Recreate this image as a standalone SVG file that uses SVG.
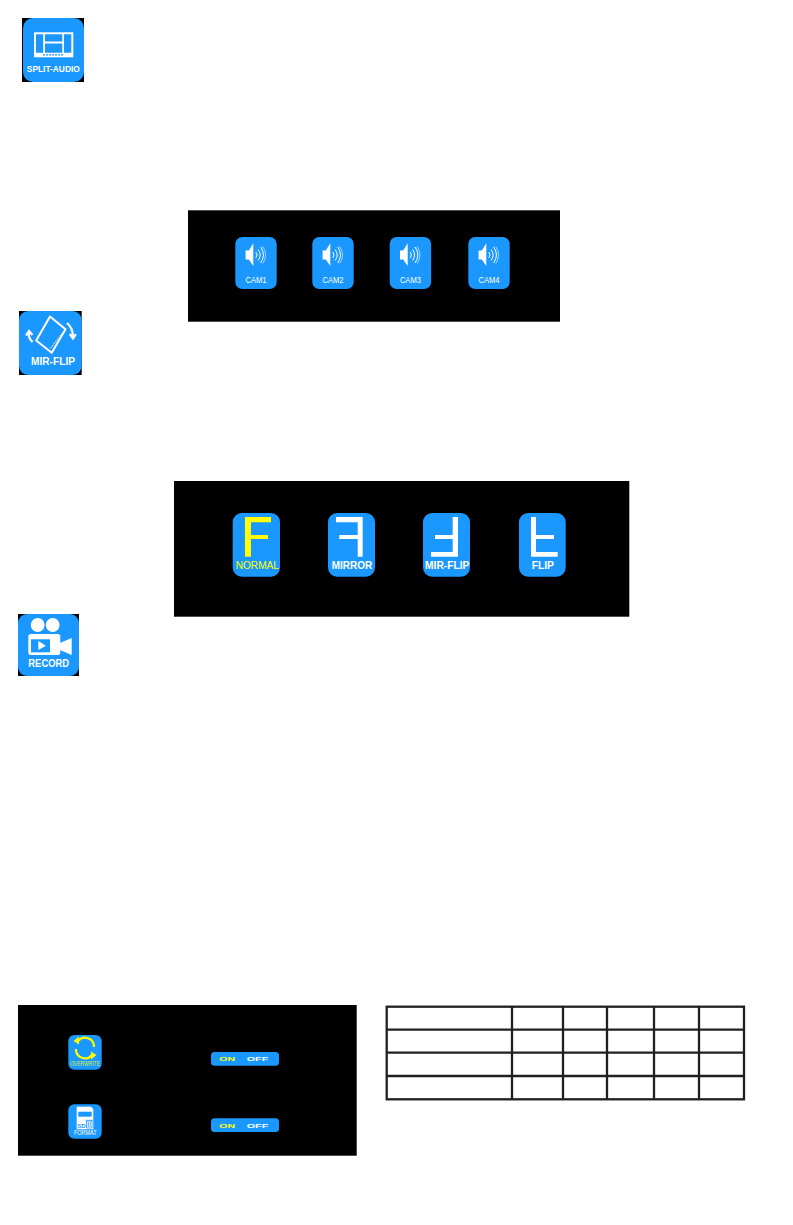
<svg xmlns="http://www.w3.org/2000/svg" width="793" height="1225" viewBox="0 0 793 1225">
<style>
.bg{fill:#000}
.tile{fill:#1a98ff}
.w{fill:#fff}
.y{fill:#ff0}
.t{font-family:"Liberation Sans",Arial,sans-serif;text-anchor:middle;fill:#fff}
.b{font-weight:bold}
.arc{fill:none;stroke:#fff;stroke-width:1}
.line{fill:none;stroke:#fff;stroke-width:2.2}
.grid{fill:none;stroke:#231f20;stroke-width:2.3}
</style>
<defs>
<g id="speaker">
<path class="w" d="M10.3 13.5H13.5L18 6.3V29L13.5 22.5H10.3Z"/>
<path class="arc" d="M20.5 15Q23 18 20.5 21M22.8 12.5Q27 18 22.8 23.5M25.3 10Q31 18 25.3 26"/>
<path class="arc" d="M27.5 9.5Q33 18 27.5 26.5" stroke-opacity=".6"/>
</g>
<g id="toggle">
<rect class="tile" x="0" y="0" width="68" height="13.7" rx="3.5"/>
<text class="t b" x="16.2" y="9.4" font-size="6.2" textLength="15.7" lengthAdjust="spacingAndGlyphs" style="fill:#ff0">ON</text>
<text class="t b" x="46.5" y="9.4" font-size="6.2" textLength="21.6" lengthAdjust="spacingAndGlyphs">OFF</text>
</g>
</defs>

<g id="icon-split-audio">
<rect class="bg" x="22" y="18" width="62" height="64"/>
<rect class="tile" x="23" y="18" width="61" height="64" rx="10"/>
<rect class="w" x="34" y="32.3" width="39.3" height="25"/>
<path class="tile" d="M36 34.3h7.2v18.4H36ZM45 34.3h17.3v7.3H45ZM45 43.6h17.3v9.1H45ZM64 34.3h7.3v18.4H64Z"/>
<path d="M43 54.8h21" stroke="#1a98ff" stroke-width="1.3" stroke-dasharray="2 1" fill="none"/>
<text class="t b" x="53.3" y="72" font-size="9.5" textLength="53" lengthAdjust="spacingAndGlyphs">SPLIT-AUDIO</text>
</g>

<g id="panel-audio">
<rect class="bg" x="188" y="210.3" width="372" height="111.4"/>
<g id="cam1" transform="translate(235.3 237)"><rect class="tile" width="41.4" height="52" rx="7"/><use href="#speaker"/><text class="t" x="20.7" y="45.7" font-size="9.5" textLength="21" lengthAdjust="spacingAndGlyphs">CAM1</text></g>
<g id="cam2" transform="translate(312.3 237)"><rect class="tile" width="41.4" height="52" rx="7"/><use href="#speaker"/><text class="t" x="20.7" y="45.7" font-size="9.5" textLength="21" lengthAdjust="spacingAndGlyphs">CAM2</text></g>
<g id="cam3" transform="translate(389.7 237)"><rect class="tile" width="41.4" height="52" rx="7"/><use href="#speaker"/><text class="t" x="20.7" y="45.7" font-size="9.5" textLength="21" lengthAdjust="spacingAndGlyphs">CAM3</text></g>
<g id="cam4" transform="translate(468.3 237)"><rect class="tile" width="41.4" height="52" rx="7"/><use href="#speaker"/><text class="t" x="20.7" y="45.7" font-size="9.5" textLength="21" lengthAdjust="spacingAndGlyphs">CAM4</text></g>
</g>

<g id="icon-mir-flip">
<rect class="bg" x="19" y="311" width="62.7" height="64"/>
<rect class="tile" x="19" y="311" width="62.7" height="64" rx="9"/>
<path d="M50 316.5L65.5 329.3L51.7 352.8L36.2 340.5Z" fill="none" stroke="#fff" stroke-width="2" stroke-linejoin="round"/>
<path d="M62.5 333L50 349" stroke="#fff" stroke-width="1" stroke-dasharray="1.5 1" fill="none"/>
<path class="line" d="M32.5 342Q28 338 29 332.5M26 335.5L29 331L32.5 335M67 323Q73 328 73 337M69.8 334L73 338.5L76 334"/>
<text class="t b" x="53" y="365" font-size="10.5" textLength="44" lengthAdjust="spacingAndGlyphs">MIR-FLIP</text>
</g>

<g id="panel-mirror-flip">
<rect class="bg" x="174" y="481" width="455.3" height="135.7"/>
<g id="normal">
<rect class="tile" x="232.7" y="513" width="47.3" height="63.7" rx="9"/>
<path class="y" d="M245 517H271V522.3H251V535H268V539H251V556.7H245Z"/>
<text class="t" x="257.3" y="569" font-size="11" textLength="43.3" lengthAdjust="spacingAndGlyphs" style="fill:#ff0">NORMAL</text>
</g>
<g id="mirror">
<rect class="tile" x="328" y="513" width="47" height="63.7" rx="9"/>
<path class="w" d="M336 517H362.7V556.7H357.7V539H339.3V535H357.7V522.3H336Z"/>
<text class="t b" x="352" y="569" font-size="11" textLength="40.6" lengthAdjust="spacingAndGlyphs">MIRROR</text>
</g>
<g id="mir-flip">
<rect class="tile" x="423" y="513" width="47" height="63.7" rx="9"/>
<path class="w" d="M452.7 517H458V556.7H431V552H452.7V539H435V535H452.7Z"/>
<text class="t b" x="447.2" y="569" font-size="11" textLength="44.3" lengthAdjust="spacingAndGlyphs">MIR-FLIP</text>
</g>
<g id="flip">
<rect class="tile" x="519" y="513" width="46.7" height="63.7" rx="9"/>
<path class="w" d="M531 517H536V535H554V539H536V552H557.7V556.7H531Z"/>
<text class="t b" x="542.8" y="569" font-size="11" textLength="22.3" lengthAdjust="spacingAndGlyphs">FLIP</text>
</g>
</g>

<g id="icon-record">
<rect class="bg" x="18" y="614" width="61" height="62"/>
<rect class="tile" x="18" y="614" width="61" height="62" rx="9"/>
<circle class="w" cx="37.7" cy="625" r="6.9"/>
<circle class="w" cx="52.7" cy="625" r="6.9"/>
<rect class="w" x="28.3" y="634" width="32" height="21" rx="2.5"/>
<rect class="tile" x="31" y="639.3" width="19" height="13"/>
<path class="w" d="M38.3 641V650L46 645.7Z"/>
<path class="w" d="M60 643L71.7 638V655L60 650Z"/>
<text class="t b" x="48.7" y="667" font-size="10.5" textLength="40.7" lengthAdjust="spacingAndGlyphs">RECORD</text>
</g>

<g id="panel-settings">
<rect class="bg" x="18" y="1005" width="338.7" height="150.7"/>
<g id="overwrite">
<rect class="tile" x="68.3" y="1035" width="33.4" height="34.7" rx="6"/>
<path d="M78 1041A9 9 0 0 1 94 1047" fill="none" stroke="#ff0" stroke-width="2.2"/>
<path d="M92 1055A9 9 0 0 1 76 1049" fill="none" stroke="#ff0" stroke-width="2.2"/>
<path class="y" d="M79 1036.5V1044.5L73.5 1041ZM91 1059.5V1051.5L96.5 1055Z"/>
<text class="t" x="85" y="1065.5" font-size="6.5" textLength="30" lengthAdjust="spacingAndGlyphs" style="fill:#d8f03a">OVERWRITE</text>
</g>
<use id="toggle-overwrite" href="#toggle" x="211" y="1052"/>
<g id="format">
<rect class="tile" x="68.3" y="1104.3" width="33.4" height="34.4" rx="6"/>
<path class="w" d="M76.7 1106.7H91L93.3 1109V1129.3H76.7Z"/>
<rect class="tile" x="78.3" y="1111.7" width="13.4" height="5"/>
<text class="t b" x="81.5" y="1127.5" font-size="6" style="fill:#1a98ff">SD</text>
<path d="M86.5 1121H92V1128H86.5ZM85.5 1120.3H93M88.3 1122V1127M90.2 1122V1127" fill="none" stroke="#1a98ff" stroke-width=".8"/>
<text class="t" x="85.3" y="1135" font-size="7.2" textLength="22.7" lengthAdjust="spacingAndGlyphs">FORMAT</text>
</g>
<use id="toggle-format" href="#toggle" x="211" y="1118.3"/>
</g>

<g id="table">
<rect class="grid" x="386.7" y="1006.7" width="357.3" height="92.6"/>
<path class="grid" d="M512 1006.7V1099.3M563 1006.7V1099.3M607 1006.7V1099.3M654 1006.7V1099.3M699 1006.7V1099.3M386.7 1029.7H744M386.7 1052.7H744M386.7 1076H744"/>
</g>
</svg>
